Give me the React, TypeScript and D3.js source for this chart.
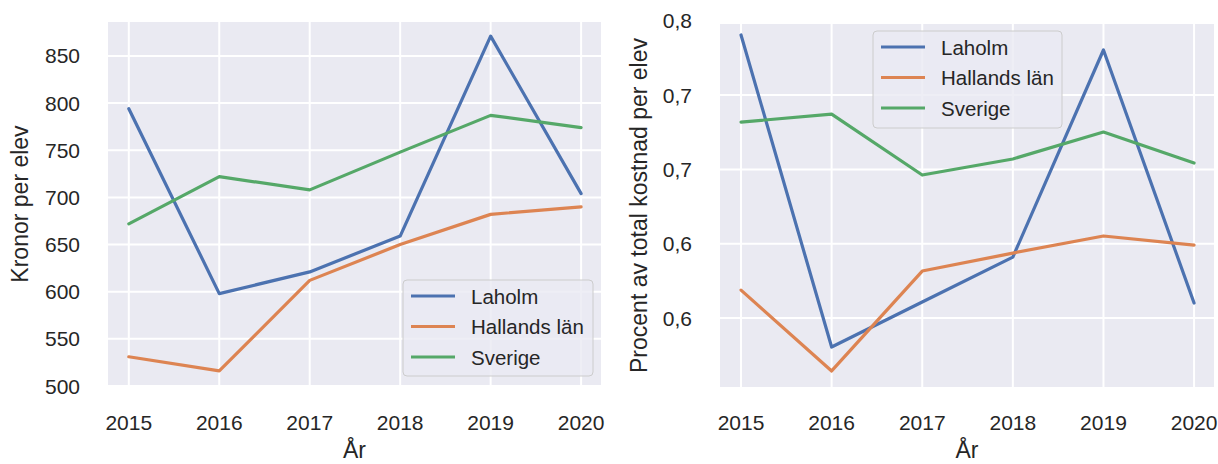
import React from 'react'
import * as d3 from 'd3'

const years = [2015, 2016, 2017, 2018, 2019, 2020]
const seriesNames = ['Laholm', 'Hallands län', 'Sverige']
const colors = ['#4C72B0', '#DD8452', '#55A868']

// kronor per elev
const kronorLaholm = [794, 598, 621, 659, 871, 704]
const kronorHalland = [531, 516, 612, 650, 682, 690]
const kronorSverige = [672, 722, 708, 748, 787, 774]
const kronorTicks = [500, 550, 600, 650, 700, 750, 800, 850]

// procent av total kostnad per elev
const procentLaholm = [0.7904, 0.5805, 0.6108, 0.641, 0.7803, 0.6101]
const procentHalland = [0.6188, 0.5644, 0.6316, 0.6437, 0.6552, 0.6491]
const procentSverige = [0.7318, 0.7372, 0.6962, 0.707, 0.7251, 0.7043]
const procentTicks = [0.6, 0.65, 0.7, 0.75, 0.8]
const procentTickLabels = ['0,6', '0,6', '0,7', '0,7', '0,8']

const font = '"Liberation Sans", Arial, Helvetica, sans-serif'
const textColor = '#262626'

type PanelProps = {
  left: number
  right: number
  top: number
  bottom: number
  xDomain: [number, number]
  yDomain: [number, number]
  series: number[][]
  yTicks: number[]
  yTickLabels: string[]
  yLabel: string
  yLabelX: number
  legend: { x: number; y: number; w: number; h: number }
}

function Panel(props: PanelProps) {
  const { left, right, top, bottom, xDomain, yDomain, series, yTicks, yTickLabels, yLabel, yLabelX, legend } = props
  const x = d3.scaleLinear().domain(xDomain).range([left, right])
  const y = d3.scaleLinear().domain(yDomain).range([bottom, top])
  const line = d3.line<number>()
    .x((_, i) => x(years[i]))
    .y(d => y(d))

  return (
    <g>
      <rect x={left} y={top} width={right - left} height={bottom - top} fill="#EAEAF2" />
      {yTicks.map(t => (
        y(t) >= top - 0.5 && y(t) <= bottom + 0.5 ?
          <line key={'gy' + t} x1={left} x2={right} y1={y(t)} y2={y(t)} stroke="#fff" strokeWidth={2} /> : null
      ))}
      {years.map(yr => (
        <line key={'gx' + yr} x1={x(yr)} x2={x(yr)} y1={top} y2={bottom} stroke="#fff" strokeWidth={2} />
      ))}
      {series.map((s, i) => (
        <path key={'s' + i} d={line(s) || ''} fill="none" stroke={colors[i]} strokeWidth={3.2} strokeLinejoin="round" strokeLinecap="round" />
      ))}
      {yTicks.map((t, i) => (
        <text key={'ty' + t} x={left - 28} y={y(t)} textAnchor="end" dominantBaseline="central"
          fontSize={21} fill={textColor} fontFamily={font}>{yTickLabels[i]}</text>
      ))}
      {years.map(yr => (
        <text key={'tx' + yr} x={x(yr)} y={430} textAnchor="middle"
          fontSize={21} fill={textColor} fontFamily={font}>{yr}</text>
      ))}
      <text x={(left + right) / 2} y={458} textAnchor="middle" fontSize={23} fill={textColor} fontFamily={font}>År</text>
      <text transform={`translate(${yLabelX},${(top + bottom) / 2}) rotate(-90)`} textAnchor="middle"
        fontSize={23} fill={textColor} fontFamily={font}>{yLabel}</text>

      {/* legend */}
      <rect x={legend.x} y={legend.y} width={legend.w} height={legend.h} rx={4}
        fill="#EAEAF2" fillOpacity={0.8} stroke="#cccccc" strokeWidth={1} />
      {seriesNames.map((name, i) => {
        const ly = legend.y + 16 + i * 30.5
        return (
          <g key={'l' + i}>
            <line x1={legend.x + 8} x2={legend.x + 52} y1={ly} y2={ly} stroke={colors[i]} strokeWidth={3.2} />
            <text x={legend.x + 68} y={ly} dominantBaseline="central" fontSize={20.5}
              fill={textColor} fontFamily={font}>{name}</text>
          </g>
        )
      })}
    </g>
  )
}

export default function App() {
  return (
    <svg width={1218} height={464} style={{ position: 'absolute', left: 0, top: 0, background: '#fff' }}>
      <Panel
        left={108} right={601} top={22} bottom={386}
        xDomain={[2014.77, 2020.22]} yDomain={[500, 886]}
        series={[kronorLaholm, kronorHalland, kronorSverige]}
        yTicks={kronorTicks} yTickLabels={kronorTicks.map(String)}
        yLabel="Kronor per elev" yLabelX={28}
        legend={{ x: 403, y: 280, w: 190, h: 96 }}
      />
      <Panel
        left={720} right={1214} top={24} bottom={387}
        xDomain={[2014.768, 2020.22]} yDomain={[0.5536, 0.7978]}
        series={[procentLaholm, procentHalland, procentSverige]}
        yTicks={procentTicks} yTickLabels={procentTickLabels}
        yLabel="Procent av total kostnad per elev" yLabelX={647}
        legend={{ x: 873, y: 31, w: 189, h: 97 }}
      />
    </svg>
  )
}
